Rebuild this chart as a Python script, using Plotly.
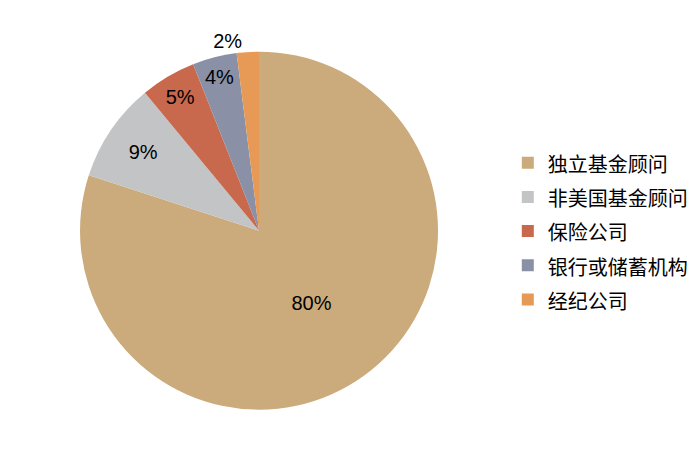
import plotly.graph_objects as go

labels = ["独立基金顾问", "非美国基金顾问", "保险公司", "银行或储蓄机构", "经纪公司"]
values = [80, 9, 5, 4, 2]
colors = ["#CBAA7B", "#C3C4C5", "#C8684C", "#8A90A6", "#E69A55"]
text_pos = ["inside", "inside", "inside", "inside", "outside"]

# larger legend font only sets the row spacing; the span keeps the text size
legend_labels = [f"<span style='font-size:20px'>{s}</span>" for s in labels]

fig = go.Figure(
    go.Pie(
        labels=legend_labels,
        values=values,
        sort=False,
        direction="clockwise",
        rotation=0,
        marker=dict(colors=colors, line=dict(width=0)),
        texttemplate="%{value}%",
        textposition=text_pos,
        insidetextorientation="horizontal",
        textfont=dict(size=20, color="#000000", family="Liberation Sans, Arial"),
        domain=dict(x=[0.1029, 0.6143], y=[0.126, 0.906]),
        hoverinfo="percent",
    )
)
fig.update_layout(
    width=700,
    height=460,
    margin=dict(l=0, r=0, t=0, b=0),
    paper_bgcolor="white",
    plot_bgcolor="white",
    font=dict(family="Noto Sans CJK SC, Liberation Sans", size=20, color="#000000"),
    legend=dict(x=0.714, y=0.515, xanchor="left", yanchor="middle",
                itemwidth=30, font=dict(size=24)),
)
fig.write_html("out.html")
